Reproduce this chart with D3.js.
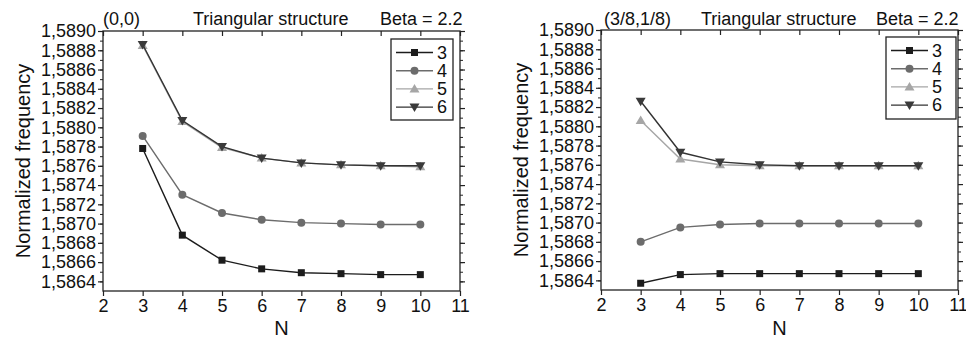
<!DOCTYPE html>
<html>
<head>
<meta charset="utf-8">
<script src="https://cdn.jsdelivr.net/npm/d3@7/dist/d3.min.js"></script>
<style>
  body { margin: 0; background: #fff; }
  svg { display: block; font-family: "Liberation Sans", Arial, Helvetica, sans-serif; }
</style>
</head>
<body>
<div id="chart"></div>
<script>
// N values on x axis
const nValues = [3, 4, 5, 6, 7, 8, 9, 10];
const seriesNames = ['3', '4', '5', '6'];
const xTicks = [2, 3, 4, 5, 6, 7, 8, 9, 10, 11];
const yTicks = [1.5864, 1.5866, 1.5868, 1.5870, 1.5872, 1.5874, 1.5876, 1.5878,
                1.5880, 1.5882, 1.5884, 1.5886, 1.5888, 1.5890];

// panel (0,0)
const p00_s3 = [1.58778, 1.58688, 1.58662, 1.58653, 1.58649, 1.58648, 1.58647, 1.58647];
const p00_s4 = [1.58791, 1.58730, 1.58711, 1.58704, 1.58701, 1.58700, 1.58699, 1.58699];
const p00_s5 = [1.58885, 1.58806, 1.58779, 1.58768, 1.58763, 1.58761, 1.58760, 1.58759];
const p00_s6 = [1.58886, 1.58807, 1.58780, 1.58768, 1.58763, 1.58761, 1.58760, 1.58760];

// panel (3/8,1/8)
const p38_s3 = [1.58637, 1.58646, 1.58647, 1.58647, 1.58647, 1.58647, 1.58647, 1.58647];
const p38_s4 = [1.58680, 1.58695, 1.58698, 1.58699, 1.58699, 1.58699, 1.58699, 1.58699];
const p38_s5 = [1.58806, 1.58766, 1.58760, 1.58759, 1.58759, 1.58759, 1.58759, 1.58759];
const p38_s6 = [1.58826, 1.58773, 1.58763, 1.58760, 1.58759, 1.58759, 1.58759, 1.58759];

const panelTitles = ['(0,0)', '(3/8,1/8)'];

const style = {
  '3': { color: '#1c1c1c', line: '#1c1c1c', shape: 'square' },
  '4': { color: '#6c6c6c', line: '#6c6c6c', shape: 'circle' },
  '5': { color: '#a6a6a6', line: '#a6a6a6', shape: 'up' },
  '6': { color: '#3a3a3a', line: '#333333', shape: 'down' }
};

const W = 966, H = 339;
const svg = d3.select('#chart').append('svg').attr('width', W).attr('height', H);

const fmt = v => d3.format('.4f')(v).replace('.', ',');

function marker(g, shape, x, y, color) {
  if (shape === 'square') {
    g.append('rect').attr('x', x - 3.5).attr('y', y - 3.5).attr('width', 7).attr('height', 7).attr('fill', color);
  } else if (shape === 'circle') {
    g.append('circle').attr('cx', x).attr('cy', y).attr('r', 4).attr('fill', color);
  } else if (shape === 'up') {
    g.append('path').attr('d', `M${x},${y - 5}L${x + 5},${y + 3.5}L${x - 5},${y + 3.5}Z`).attr('fill', color);
  } else {
    g.append('path').attr('d', `M${x},${y + 5}L${x + 5},${y - 3.5}L${x - 5},${y - 3.5}Z`).attr('fill', color);
  }
}

function drawPanel(cfg) {
  const { x0, x1, y0, y1, data, title, legend } = cfg;
  const x = d3.scaleLinear().domain([2, 11]).range([x0, x1]);
  const y = d3.scaleLinear().domain([1.5863, 1.5890]).range([y1, y0]);
  const g = svg.append('g');

  // frame
  g.append('rect').attr('x', x0).attr('y', y0).attr('width', x1 - x0).attr('height', y1 - y0)
    .attr('fill', 'none').attr('stroke', '#222').attr('stroke-width', 1.3);

  const minor = d3.range(1.5864, 1.58905, 0.0001);

  // left axis
  const left = g.append('g').attr('transform', `translate(${x0},0)`)
    .call(d3.axisLeft(y).tickValues(yTicks).tickFormat(fmt).tickSize(5).tickPadding(2));
  left.select('.domain').remove();
  left.selectAll('line').attr('stroke', '#222').attr('stroke-width', 1.2);
  left.selectAll('text').attr('font-size', 18).attr('fill', '#111');
  g.append('g').attr('transform', `translate(${x0},0)`)
    .call(d3.axisLeft(y).tickValues(minor).tickFormat('').tickSize(3))
    .call(a => a.select('.domain').remove())
    .selectAll('line').attr('stroke', '#222').attr('stroke-width', 1);

  // right axis (ticks outward, no labels)
  const right = g.append('g').attr('transform', `translate(${x1},0)`)
    .call(d3.axisRight(y).tickValues(yTicks).tickFormat('').tickSize(5));
  right.select('.domain').remove();
  right.selectAll('line').attr('stroke', '#222').attr('stroke-width', 1.2);
  g.append('g').attr('transform', `translate(${x1},0)`)
    .call(d3.axisRight(y).tickValues(minor).tickFormat('').tickSize(3))
    .call(a => a.select('.domain').remove())
    .selectAll('line').attr('stroke', '#222').attr('stroke-width', 1);

  // bottom axis
  const bottom = g.append('g').attr('transform', `translate(0,${y1})`)
    .call(d3.axisBottom(x).tickValues(xTicks).tickFormat(d3.format('d')).tickSize(5).tickPadding(3));
  bottom.select('.domain').remove();
  bottom.selectAll('line').attr('stroke', '#222').attr('stroke-width', 1.2);
  bottom.selectAll('text').attr('font-size', 18).attr('fill', '#111');

  // top axis (ticks inward)
  const top = g.append('g').attr('transform', `translate(0,${y0})`)
    .call(d3.axisBottom(x).tickValues(xTicks).tickFormat('').tickSize(5));
  top.select('.domain').remove();
  top.selectAll('line').attr('stroke', '#222').attr('stroke-width', 1.2);

  // axis titles
  g.append('text').attr('x', (x0 + x1) / 2).attr('y', 335).attr('text-anchor', 'middle')
    .attr('font-size', 20).attr('fill', '#111').text('N');
  g.append('text').attr('transform', `translate(${x0 - 73},${(y0 + y1) / 2}) rotate(-90)`)
    .attr('text-anchor', 'middle').attr('font-size', 20).attr('fill', '#111').text('Normalized frequency');

  // headings
  g.append('text').attr('x', title.x).attr('y', 25).attr('font-size', 18).attr('fill', '#111').text(title.label);
  g.append('text').attr('x', title.tx).attr('y', 25).attr('font-size', 18).attr('fill', '#111').text('Triangular structure');
  g.append('text').attr('x', title.bx).attr('y', 25).attr('font-size', 18).attr('fill', '#111').text('Beta = 2.2');

  // series
  const line = d3.line().x((d, i) => x(nValues[i])).y(d => y(d));
  seriesNames.forEach((s, k) => {
    const st = style[s];
    g.append('path').attr('d', line(data[k])).attr('fill', 'none')
      .attr('stroke', st.line).attr('stroke-width', 1.4);
    const mg = g.append('g');
    data[k].forEach((v, i) => marker(mg, st.shape, x(nValues[i]), y(v), st.color));
  });

  // legend
  const lg = g.append('g');
  lg.append('rect').attr('x', legend.x).attr('y', legend.y).attr('width', legend.w).attr('height', legend.h)
    .attr('fill', '#fff').attr('stroke', '#222').attr('stroke-width', 1.3);
  seriesNames.forEach((s, k) => {
    const st = style[s];
    const cy = legend.y + 13.5 + k * 18.2;
    lg.append('line').attr('x1', legend.x + 5).attr('x2', legend.x + 42).attr('y1', cy).attr('y2', cy)
      .attr('stroke', st.line).attr('stroke-width', 1.4);
    marker(lg, st.shape, legend.x + 23.5, cy, st.color);
    lg.append('text').attr('x', legend.x + 46).attr('y', cy + 6.3).attr('font-size', 18)
      .attr('fill', '#111').text(s);
  });
}

drawPanel({
  x0: 103, x1: 460, y0: 31, y1: 291,
  data: [p00_s3, p00_s4, p00_s5, p00_s6],
  title: { label: panelTitles[0], x: 103, tx: 193, bx: 380 },
  legend: { x: 391, y: 39, w: 62, h: 81 }
});

drawPanel({
  x0: 601, x1: 958, y0: 30, y1: 290,
  data: [p38_s3, p38_s4, p38_s5, p38_s6],
  title: { label: panelTitles[1], x: 604, tx: 701, bx: 876 },
  legend: { x: 886, y: 37, w: 70, h: 82 }
});
</script>
</body>
</html>
